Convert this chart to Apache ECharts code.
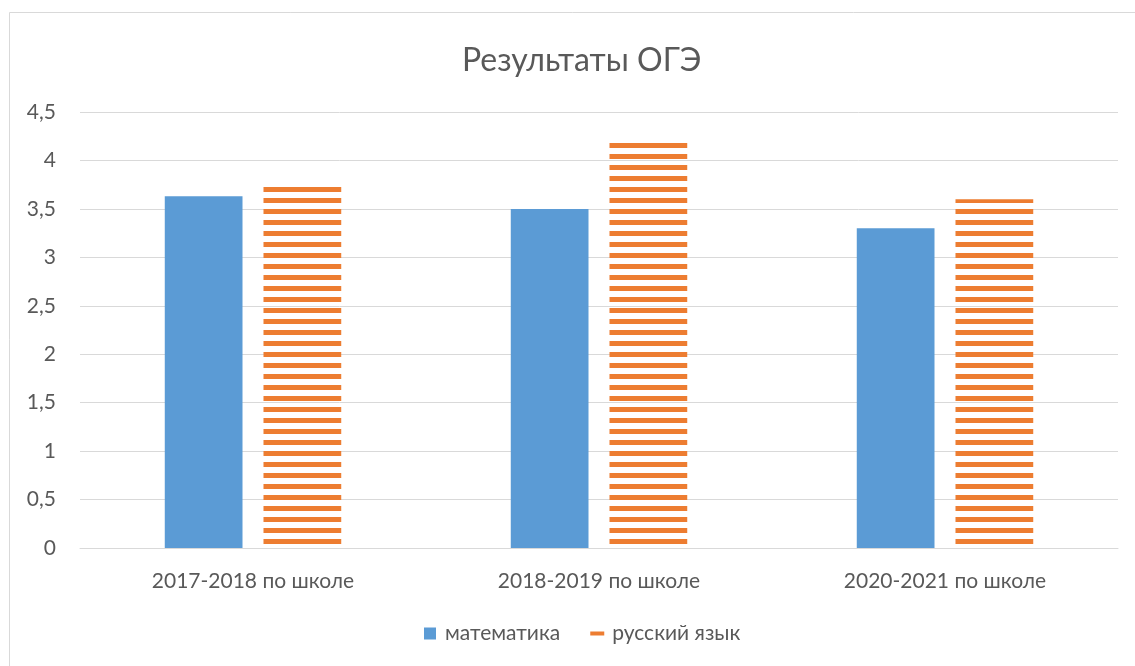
<!DOCTYPE html>
<html>
<head>
<meta charset="utf-8">
<script src="https://cdn.jsdelivr.net/npm/echarts@6/dist/echarts.min.js"></script>
<style>
  html, body { margin: 0; padding: 0; background: #fff; }
  #main { width: 1135px; height: 666px; }
</style>
</head>
<body>
<div id="main"></div>
<script>
const categories = ['2017-2018 по школе', '2018-2019 по школе', '2020-2021 по школе'];
const mathValues = [3.63, 3.5, 3.3];
const russianValues = [3.75, 4.2, 3.6];
const seriesNames = ['математика', 'русский язык'];

const FONT = 'Lato, "Noto Sans", sans-serif';
const TEXT_COLOR = '#595959';

// horizontal stripes for the second series
const makeStripes = () => {
  const c = document.createElement('canvas');
  c.width = 8;
  c.height = 11;
  const ctx = c.getContext('2d');
  ctx.fillStyle = '#ED7D31';
  ctx.fillRect(0, 0, 8, 5);
  return c;
};

const chart = echarts.init(document.getElementById('main'));
const option = {
  animation: false,
  backgroundColor: '#fff',
  title: {
    text: 'Результаты ОГЭ',
    left: 457,
    top: 40,
    textStyle: { fontFamily: FONT, fontSize: 32, fontWeight: 'normal', color: TEXT_COLOR },
  },
  graphic: [
    {
      type: 'polyline',
      shape: { points: [[9.5, 666], [9.5, 12.5], [1135, 12.5]] },
      style: { stroke: '#d9d9d9', lineWidth: 1, fill: null },
      silent: true,
    },
  ],
  legend: {
    bottom: 17,
    left: 419,
    itemGap: 30,
    itemWidth: 14,
    itemHeight: 12,
    itemStyle: { borderWidth: 0 },
    textStyle: { fontFamily: FONT, fontSize: 21, color: TEXT_COLOR, padding: [0, 0, 0, 3] },
    data: [
      { name: seriesNames[0], icon: 'path://M0,0H12V12H0Z', itemStyle: { color: '#5B9BD5' } },
      { name: seriesNames[1], icon: 'path://M0,0H14V4H0Z', itemStyle: { color: '#ED7D31' } },
    ],
  },
  grid: {
    left: 80,
    right: 17,
    top: 112,
    bottom: 118,
  },
  xAxis: {
    type: 'category',
    data: categories,
    axisTick: { show: false },
    axisLine: { lineStyle: { color: '#d9d9d9', width: 1 } },
    axisLabel: { fontFamily: FONT, fontSize: 21, color: TEXT_COLOR, margin: 23 },
  },
  yAxis: {
    type: 'value',
    min: 0,
    max: 4.5,
    interval: 0.5,
    axisLine: { show: false },
    axisTick: { show: false },
    splitLine: { lineStyle: { color: '#d9d9d9', width: 1 } },
    axisLabel: {
      fontFamily: FONT,
      fontSize: 21,
      color: TEXT_COLOR,
      margin: 24,
      formatter: (v) => String(v).replace('.', ','),
    },
  },
  series: [
    {
      name: seriesNames[0],
      type: 'bar',
      data: mathValues,
      barGap: '27%',
      barCategoryGap: '49%',
      itemStyle: { color: '#5B9BD5' },
    },
    {
      name: seriesNames[1],
      type: 'bar',
      data: russianValues,
      barGap: '27%',
      barCategoryGap: '49%',
      itemStyle: { color: { image: makeStripes(), repeat: 'repeat' } },
    },
  ],
};
chart.setOption(option);
</script>
</body>
</html>
